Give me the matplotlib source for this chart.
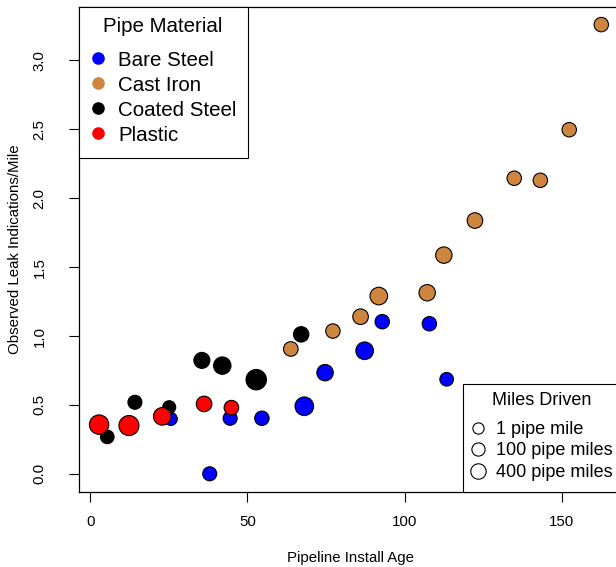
import matplotlib
matplotlib.use("Agg")
import matplotlib.pyplot as plt
from matplotlib.patches import Rectangle
from matplotlib.lines import Line2D
import numpy as np

plt.rcParams['font.family'] = ['Liberation Sans', 'DejaVu Sans']

# ---------------- data ----------------
materials = ["Bare Steel", "Cast Iron", "Coated Steel", "Plastic"]
material_colors = ["#0000FF", "#CD853F", "#000000", "#FF0000"]

bare_age = [25.6, 38.0, 44.5, 54.6, 68.1, 74.7, 87.3, 92.9, 107.9, 113.4]
bare_leak = [0.398, 0.0, 0.403, 0.403, 0.49, 0.734, 0.893, 1.104, 1.089, 0.686]
bare_miles = [300, 480, 480, 570, 1920, 1110, 1520, 570, 570, 400]

cast_age = [63.8, 77.2, 86.0, 91.8, 107.2, 112.5, 122.4, 134.9, 143.2, 152.4, 162.6]
cast_leak = [0.906, 1.036, 1.14, 1.29, 1.314, 1.587, 1.838, 2.145, 2.13, 2.497, 3.26]
cast_miles = [610, 570, 870, 1520, 1110, 1110, 870, 570, 570, 570, 570]

coated_age = [5.4, 14.2, 25.1, 35.5, 42.0, 52.8, 67.1]
coated_leak = [0.268, 0.519, 0.483, 0.823, 0.785, 0.683, 1.012]
coated_miles = [400, 480, 300, 990, 1450, 2740, 820]

plastic_age = [2.8, 12.3, 22.9, 36.2, 44.9]
plastic_leak = [0.357, 0.35, 0.417, 0.507, 0.48]
plastic_miles = [2270, 2550, 1520, 870, 610]

size_legend_miles = [1, 100, 400]
size_legend_labels = ["1 pipe mile", "100 pipe miles", "400 pipe miles"]

x_ticks = [0, 50, 100, 150]
y_ticks = [0.0, 0.5, 1.0, 1.5, 2.0, 2.5, 3.0]

series = [
    (bare_age, bare_leak, bare_miles),
    (cast_age, cast_leak, cast_miles),
    (coated_age, coated_leak, coated_miles),
    (plastic_age, plastic_leak, plastic_miles),
]

# ---------------- figure ----------------
W, H, DPI = 616, 567, 100
fig = plt.figure(figsize=(W / DPI, H / DPI), dpi=DPI)
PT = 72.0 / DPI  # points per pixel


def radius_px(miles):
    return 5.2 + 0.105 * np.sqrt(np.asarray(miles, dtype=float))


def legend_radius_px(miles):
    return 5.5 + 0.11 * np.sqrt(np.asarray(miles, dtype=float))


def fx(x):
    return x / W


def fy(y):
    return 1 - y / H


ax_l, ax_r, ax_t, ax_b = 79.3, 621.4, 6.7, 491.7
ax = fig.add_axes([fx(ax_l), fy(ax_b), (ax_r - ax_l) / W, (ax_b - ax_t) / H])
ax.set_xlim(-3.5, 169)
ax.set_ylim(-0.13, 3.39)

for (xs, ys, ms), col in zip(series, material_colors):
    r = radius_px(ms) - 0.5
    s = (2 * r * PT) ** 2
    ax.scatter(xs, ys, s=s, c=col, edgecolors="black", linewidths=0.8, zorder=3)

for sp in ax.spines.values():
    sp.set_linewidth(0.9)
    sp.set_color("black")

ax.set_xticks(x_ticks)
ax.set_xticklabels([str(v) for v in x_ticks])
ax.set_yticks(y_ticks)
ax.set_yticklabels([f"{v:.1f}" for v in y_ticks], rotation=90, va="center")
ax.tick_params(axis="both", direction="out", length=7.2, width=0.8, labelsize=10.8, colors="black")
ax.tick_params(axis="x", pad=9.9)
ax.tick_params(axis="y", pad=16.4)

ax.set_xlabel("Pipeline Install Age", fontsize=10.8)
ax.set_ylabel("Observed Leak Indications/Mile", fontsize=10.8)
ax.xaxis.label.set_va("center")
ax.yaxis.label.set_va("center")
ax.xaxis.set_label_coords(0.5, (ax_b - 558) / (ax_b - ax_t))
ax.yaxis.set_label_coords((15 - ax_l) / (ax_r - ax_l), 0.5)

# ---------------- legend 1: Pipe Material ----------------
fs1 = 14.8
fs1_px = fs1 / PT
fig.add_artist(Rectangle((fx(79.3), fy(158.3)), (247.7 - 79.3) / W, (158.3 - 6.7) / H,
                         transform=fig.transFigure, facecolor="white", edgecolor="black",
                         linewidth=0.8, zorder=5))
fig.text(fx(163), fy(25 + 0.358 * fs1_px), "Pipe Material", fontsize=fs1, ha="center",
         va="baseline", zorder=6)
rows1 = [58.3, 83.3, 108.3, 133.3]
for lab, col, ry in zip(materials, material_colors, rows1):
    fig.add_artist(Line2D([fx(98.3)], [fy(ry)], marker="o", markersize=2 * 6.3 * PT,
                          markerfacecolor=col, markeredgecolor=col, markeredgewidth=0,
                          linestyle="none", transform=fig.transFigure, zorder=6))
    fig.text(fx(118.3), fy(ry + 0.358 * fs1_px), lab, fontsize=fs1, ha="left",
             va="baseline", zorder=6)

# ---------------- legend 2: Miles Driven ----------------
fs2 = 13.0
fs2_px = fs2 / PT
fig.add_artist(Rectangle((fx(463.3), fy(ax_b)), (ax_r - 463.3) / W, (ax_b - 384) / H,
                         transform=fig.transFigure, facecolor="white", edgecolor="black",
                         linewidth=0.8, zorder=5))
fig.text(fx(542), fy(399 + 0.358 * fs2_px), "Miles Driven", fontsize=fs2, ha="center",
         va="baseline", zorder=6)
rows2 = [427.7, 449.0, 470.7]
for lab, m, ry in zip(size_legend_labels, size_legend_miles, rows2):
    r = legend_radius_px(m)
    fig.add_artist(Line2D([fx(477.7)], [fy(ry)], marker="o", markersize=2 * r * PT,
                          markerfacecolor="none", markeredgecolor="black", markeredgewidth=0.8,
                          linestyle="none", transform=fig.transFigure, zorder=6))
    fig.text(fx(495.7), fy(ry + 0.358 * fs2_px), lab, fontsize=fs2, ha="left",
             va="baseline", zorder=6)

fig.savefig("out.png", dpi=DPI)
